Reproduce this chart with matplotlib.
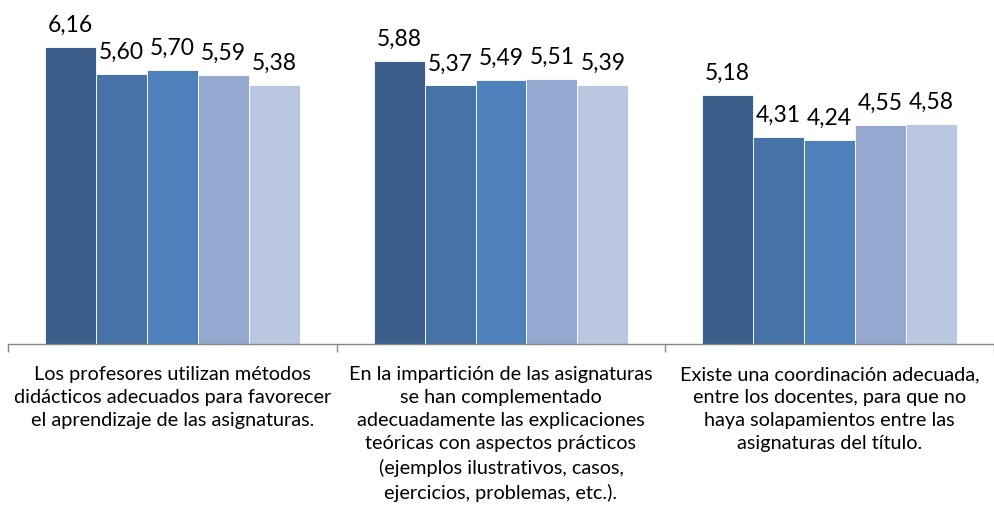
import numpy as np
import matplotlib.pyplot as plt
from matplotlib.transforms import blended_transform_factory

# Etiquetas de las preguntas (eje x)
categories = [
    "Los profesores utilizan métodos\ndidácticos adecuados para favorecer\nel aprendizaje de las asignaturas.",
    "En la impartición de las asignaturas\nse han complementado\nadecuadamente las explicaciones\nteóricas con aspectos prácticos\n(ejemplos ilustrativos, casos,\nejercicios, problemas, etc.).",
    "Existe una coordinación adecuada,\nentre los docentes, para que no\nhaya solapamientos entre las\nasignaturas del título.",
]

# Cinco series (una por barra dentro de cada grupo)
serie1 = [6.16, 5.88, 5.18]
serie2 = [5.60, 5.37, 4.31]
serie3 = [5.70, 5.49, 4.24]
serie4 = [5.59, 5.51, 4.55]
serie5 = [5.38, 5.39, 4.58]
series = [serie1, serie2, serie3, serie4, serie5]

colors = ["#3b5e8c", "#4572a7", "#4f81bd", "#95a9d0", "#b9c7e1"]

plt.rcParams['font.family'] = ['Lato', 'DejaVu Sans']

fig = plt.figure(figsize=(9.95, 5.19), dpi=100)
# axes: left 8px, right 994px, bottom 344px, top 7px (figure 995x519)
ax = fig.add_axes([8 / 995, 1 - 344 / 519, 986 / 995, 337 / 519])

n = len(series)
bar_w = 0.155
x = np.arange(len(categories))
for i, vals in enumerate(series):
    pos = x + (i - (n - 1) / 2) * bar_w
    bars = ax.bar(pos, vals, width=bar_w, color=colors[i], edgecolor="white", linewidth=0.6)
    for b, v in zip(bars, vals):
        ax.annotate(f"{v:.2f}".replace(".", ","), (b.get_x() + b.get_width() / 2, v),
                    xytext=(0, 8), textcoords="offset points", ha="center", va="bottom",
                    fontsize=16.5, color="black")

ax.set_xlim(-0.5, len(categories) - 0.5)
ax.set_ylim(0, 7)
ax.set_yticks([])
for s in ["top", "right", "left"]:
    ax.spines[s].set_visible(False)
ax.spines["bottom"].set_color("#868686")
ax.spines["bottom"].set_linewidth(1)

ax.set_xticks(np.arange(len(categories) + 1) - 0.5, minor=False)
ax.set_xticklabels([])
ax.tick_params(axis="x", length=6, color="#868686", width=1)

trans = blended_transform_factory(ax.transData, fig.transFigure)
for xi, lab in zip(x, categories):
    ax.text(xi, 1 - 366 / 519, lab, transform=trans, ha="center", va="top",
            fontsize=14.3, linespacing=1.44, color="black")

fig.savefig("out.png", dpi=100)
